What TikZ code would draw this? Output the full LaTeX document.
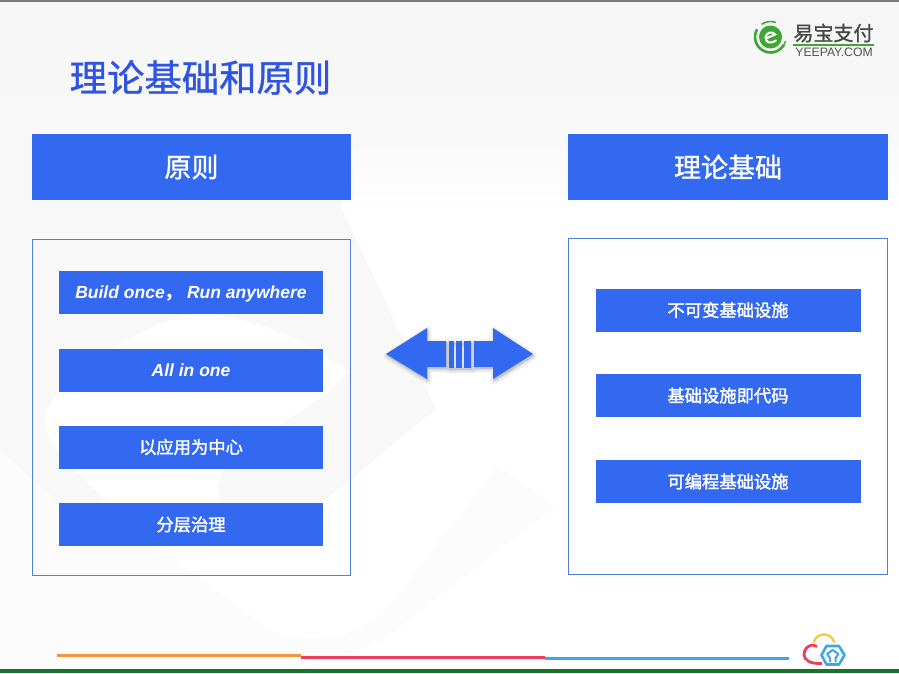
\documentclass[tikz,border=0pt]{standalone}
\usepackage{fontspec}
\setmainfont{Liberation Sans}
\newfontfamily\cjk{Noto Sans CJK SC}
\newfontfamily\cjkt[FakeBold=0.9]{Noto Sans CJK SC}
\newfontfamily\cjkh[FakeBold=1.2]{Noto Sans CJK SC}
\newfontfamily\cjki[FakeBold=1.8]{Noto Sans CJK SC}
\definecolor{bluefill}{HTML}{3369F0}
\definecolor{boxline}{HTML}{4F7FDB}
\definecolor{titleblue}{HTML}{2F55E0}
\definecolor{wm}{HTML}{F8F8F9}
\definecolor{wmb}{HTML}{F6F6F7}
\definecolor{wmc}{HTML}{FCFCFC}
\definecolor{logogreen}{HTML}{3FA535}
\definecolor{footg}{HTML}{187528}
\definecolor{foot1}{HTML}{F7953B}
\definecolor{foot2}{HTML}{EE3C5B}
\definecolor{foot3}{HTML}{3AA8E8}
\definecolor{foot4}{HTML}{F7C63A}
\tikzset{
 head/.style={fill=bluefill,text=white,minimum width=320pt,minimum height=66pt,inner sep=0pt,font=\cjkh\fontsize{27}{27}\selectfont},
 item/.style={fill=bluefill,text=white,minimum height=43pt,inner sep=0pt,font=\cjki\fontsize{17.3}{17}\selectfont},
 latin/.style={font=\bfseries\itshape\fontsize{17.5}{17}\selectfont,text height=14pt,text depth=2pt},
 frame/.style={draw=boxline,line width=1pt,fill=none,inner sep=0pt},
 arrowshape/.style={fill=bluefill},
}
\begin{document}
\begin{tikzpicture}[x=1pt,y=-1pt]
\useasboundingbox (0,0) rectangle (899,673);
% background
\fill[white] (0,0) rectangle (899,673);
% lower faint zone
\fill[wmc] (0,430) -- (498,465) -- (555,507) -- (383,640) -- (300,673) -- (0,673) -- cycle;
% top band, fading on the right
\shade[top color=wmb,bottom color=wm] (0,0) rectangle (899,128);
\shade[top color=wm,bottom color=white] (0,128) rectangle (899,215);
% grey shape merging with the top band
\fill[wm] (0,300) -- (168,222) -- (340,205) -- (340,128) -- (0,128) -- cycle;
\fill[wm] (0,300) -- (168,222) -- (340,205) -- (436,409) -- (325,500) -- (250,530) -- (100,540) -- (0,450) -- cycle;
% white blob
\fill[white] (45,419) .. controls (47,395) and (80,368) .. (111,349)
  .. controls (150,325) and (185,312) .. (207,314)
  .. controls (235,315) and (300,335) .. (330,359)
  -- (283,423) .. controls (250,445) and (218,465) .. (218,490)
  .. controls (218,515) and (260,525) .. (325,500)
  -- (436,409) -- (498,465) -- (383,613)
  .. controls (350,640) and (310,645) .. (270,630)
  .. controls (220,590) and (140,540) .. (70,465)
  .. controls (55,450) and (45,435) .. (45,419) -- cycle;
\fill[wm] (283,423) .. controls (250,445) and (218,465) .. (218,490)
  .. controls (218,515) and (260,525) .. (325,500) -- (436,409) -- (330,359) -- cycle;
\fill[white] (330,359) -- (283,423) -- (325,395) -- (350,372) -- cycle;
\fill[black!52] (0,0) rectangle (899,1.5);
% footer rules
\fill[footg] (0,669) rectangle (899,673);
\fill[foot1] (57,653.5) rectangle (301,656.5);
\fill[foot2] (301,655.5) rectangle (545,658.5);
\fill[foot3] (545,656.5) rectangle (789,659.5);
% title
\node[anchor=center,text=titleblue,inner sep=0pt,font=\cjkt\fontsize{37.4}{37}\selectfont] (title) at (200.5,77.5) {理论基础和原则};
% heads
\node[head,minimum width=319pt] (hl) at (191.5,167) {原则};
\node[head] (hr) at (728,167) {理论基础};
% frames
\node[frame,minimum width=318pt,minimum height=336pt] (fl) at (191,407.5) {};
\node[frame,minimum width=319pt,minimum height=336pt] (fr) at (728,406.5) {};
% left items
\node[item,latin,minimum width=264pt] (l1) at (191,292.5) {Build once{\cjk ，} Run anywhere};
\node[item,latin,minimum width=264pt] (l2) at (191,370) {All in one};
\node[item,minimum width=264pt] (l3) at (191,447) {以应用为中心};
\node[item,minimum width=264pt] (l4) at (191,524.5) {分层治理};
% right items
\node[item,minimum width=265pt] (r1) at (728,310) {不可变基础设施};
\node[item,minimum width=265pt] (r2) at (728,395.5) {基础设施即代码};
\node[item,minimum width=265pt] (r3) at (728,481.5) {可编程基础设施};
% double arrow shadow
\foreach \w in {8,6.5,5,3.5,2,0.8}{
 \begin{scope}[xshift=1pt,yshift=-2pt]
 \fill[black,fill opacity=0.02,draw=black,draw opacity=0.022,line width=\w pt,line join=round]
  (386,354) -- (427,328) -- (427,341) -- (446,341) -- (446,367) -- (427,367) -- (427,379) -- cycle;
 \fill[black,fill opacity=0.02,draw=black,draw opacity=0.022,line width=\w pt,line join=round]
  (533,354) -- (493,328) -- (493,341) -- (474,341) -- (474,367) -- (493,367) -- (493,379) -- cycle;
 \fill[black,fill opacity=0.02,draw=black,draw opacity=0.022,line width=\w pt,line join=round]
  (449,341) rectangle (471,368);
 \end{scope}
}
% double arrow
\fill[arrowshape] (386,354) -- (427,328) -- (427,341) -- (446,341) -- (446,367) -- (427,367) -- (427,379) -- cycle;
\fill[arrowshape] (533,354) -- (493,328) -- (493,341) -- (474,341) -- (474,367) -- (493,367) -- (493,379) -- cycle;
\fill[arrowshape] (449,341) rectangle (454,368);
\fill[arrowshape] (456,341) rectangle (462,368);
\fill[arrowshape] (464,341) rectangle (471,368);
% logo
\draw[logogreen,line width=2.6pt] (770.5,37) ++(150:15.5pt) arc (150:330:15.5pt);
\draw[logogreen,line width=1.4pt] (770.5,37) ++(-15:15.5pt) arc (-15:-60:15.5pt);
\draw[logogreen,line width=1.6pt] (770.5,37) ++(70:15.5pt) arc (70:125:15.5pt);
\fill[logogreen] (770.5,37) circle (11.5pt);
\draw[white,line width=2.1pt,line cap=round] (766,38.5) -- (775,34.5) .. controls (773,31) and (766,32) .. (765.5,37.5) .. controls (765.5,43) and (771,44) .. (776,40.5);
\node[inner sep=0pt,font=\cjkh\fontsize{20}{20}\selectfont,text=black!72] (logo) at (833.5,33) {易宝支付};
\fill[logogreen] (793,43.5) rectangle (874,45.5);
\node[inner sep=0pt,font=\fontsize{12.2}{12}\selectfont,text=black!68] (logot) at (834,52) {YEEPAY.COM};
% footer cloud logo
\draw[foot4,line width=2.2pt,line cap=round] (814,642) .. controls (816,632) and (832,632) .. (834,642);
\draw[foot2,line width=2.8pt] (817,646.5) .. controls (808,642) and (804,650) .. (804,654.5) .. controls (804,660) and (810,664) .. (822,663.5);
\draw[foot3,line width=2.6pt,line join=round] (826.5,646) -- (839,646) -- (844.5,655) -- (839,664.5) -- (826.5,664.5) -- (821.5,655) -- cycle;
\draw[foot3,line width=2pt,line join=round] (827,654) -- (832.5,650) -- (838.5,654) (827,654) -- (830,658) -- (830,662) (838.5,654) -- (835.5,658) -- (835.5,662);
\end{tikzpicture}
\end{document}
